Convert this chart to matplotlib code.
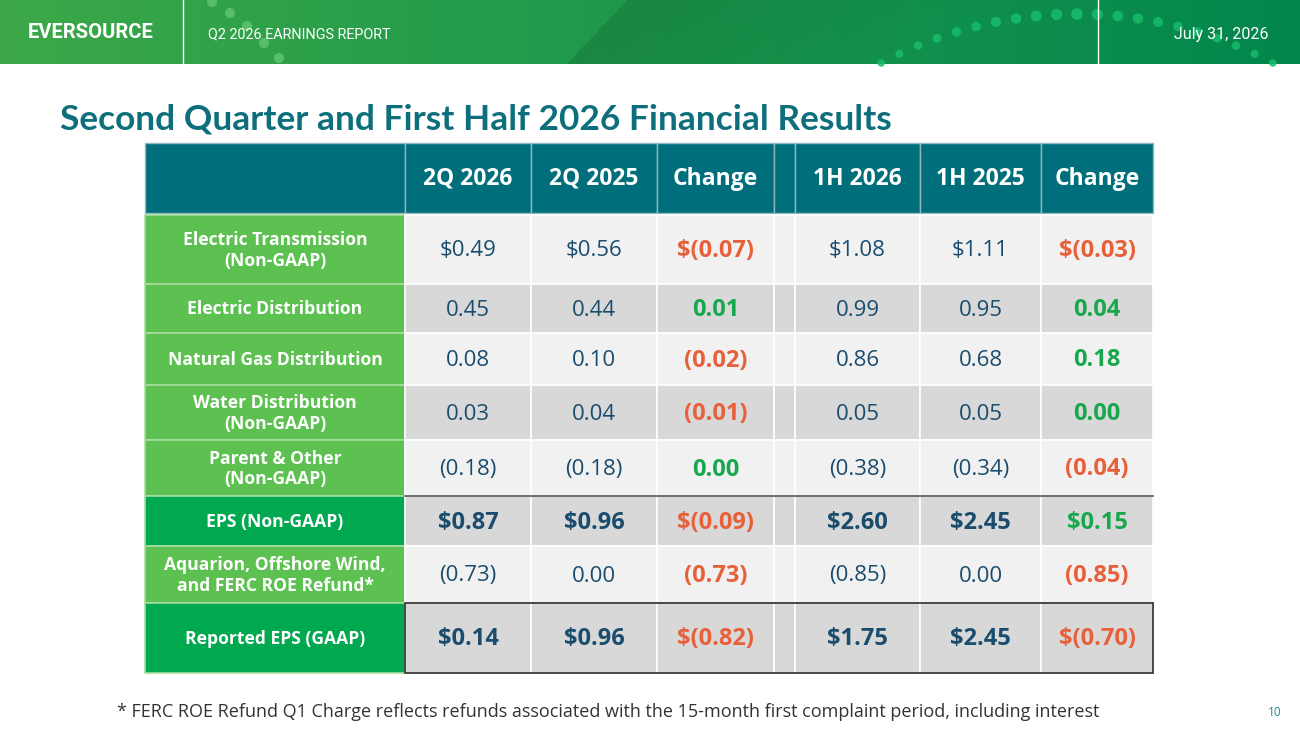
import numpy as np
import matplotlib
matplotlib.use("Agg")
import matplotlib.pyplot as plt
from matplotlib.patches import Rectangle, Circle

# ---------------- data ----------------
col_headers = ["2Q 2026", "2Q 2025", "Change", "1H 2026", "1H 2025", "Change"]
row_labels = [
    "Electric Transmission\n(Non-GAAP)",
    "Electric Distribution",
    "Natural Gas Distribution",
    "Water Distribution\n(Non-GAAP)",
    "Parent & Other\n(Non-GAAP)",
    "EPS (Non-GAAP)",
    "Aquarion, Offshore Wind,\nand FERC ROE Refund*",
    "Reported EPS (GAAP)",
]
q2_2026 = ["$0.49", "0.45", "0.08", "0.03", "(0.18)", "$0.87", "(0.73)", "$0.14"]
q2_2025 = ["$0.56", "0.44", "0.10", "0.04", "(0.18)", "$0.96", "0.00", "$0.96"]
q2_change = ["$(0.07)", "0.01", "(0.02)", "(0.01)", "0.00", "$(0.09)", "(0.73)", "$(0.82)"]
h1_2026 = ["$1.08", "0.99", "0.86", "0.05", "(0.38)", "$2.60", "(0.85)", "$1.75"]
h1_2025 = ["$1.11", "0.95", "0.68", "0.05", "(0.34)", "$2.45", "0.00", "$2.45"]
h1_change = ["$(0.03)", "0.04", "0.18", "0.00", "(0.04)", "$0.15", "(0.85)", "$(0.70)"]
total_rows = [5, 7]

title = "Second Quarter and First Half 2026 Financial Results"
header_left = "Q2 2026 EARNINGS REPORT"
header_right = "July 31, 2026"
logo = "EVERSOURCE"
footnote = ("* FERC ROE Refund Q1 Charge reflects refunds associated with the "
            "15-month first complaint period, including interest")
page_no = "10"

# ---------------- layout / style ----------------
W, H = 1300, 731
TEAL = "#006f7b"
TITLE_C = "#0d6f7b"
LGREEN = "#5cc151"
DGREEN = "#00a84f"
VAL_C = "#1a4d6d"
NEG_C = "#e8603a"
POS_C = "#17a74c"
ROW_LIGHT = "#f1f1f1"
ROW_DARK = "#d8d8d8"

col_x = [145, 405, 531, 657, 774, 795, 920, 1041, 1153]   # cell edges (incl. spacer)
head_y = (143, 213)
row_y = [215, 284, 333, 385, 440, 496, 546, 603, 673]

fig = plt.figure(figsize=(W / 100, H / 100), dpi=100)
ax = fig.add_axes([0, 0, 1, 1])
ax.set_xlim(0, W)
ax.set_ylim(H, 0)
ax.axis("off")

# ---------------- header band ----------------
xs = np.linspace(0, 1, W)
ys = np.linspace(0, 1, 64)
X, Y = np.meshgrid(xs, ys)
c0 = np.array([60, 168, 72]) / 255
c1 = np.array([28, 152, 76]) / 255
c2 = np.array([2, 134, 76]) / 255
t = X[..., None]
grad = np.where(t < 0.5, c0 + (c1 - c0) * (t / 0.5), c1 + (c2 - c1) * ((t - 0.5) / 0.5))
# darker diagonal region fading to the right
edge_px = 567 + (1 - Y) * 60
Xp = X * W
fade = np.clip(1 - (Xp - edge_px) / 320, 0, 1) * (Xp > edge_px)
grad = grad * (1 - 0.12 * fade[..., None])
ax.imshow(grad, extent=(0, W, 64, 0), aspect="auto", zorder=0, interpolation="bilinear")

# decorative dots
left_dots = [(212, 2), (230, 13), (247, 26), (264, 43), (279, 58)]
for (dx, dy) in left_dots:
    ax.add_patch(Circle((dx, dy), 5, color="#78d884", alpha=0.55, lw=0, zorder=1))
cx, cy, R = 1077, 430, 416
angs = np.arange(-0.49, 0.50, 0.049)
for a in angs:
    px = cx + R * np.sin(a)
    py = cy - R * np.cos(a)
    if py < 66:
        rr = 5.8 - 2.0 * abs(a) / 0.49
        ax.add_patch(Circle((px, py), rr, color="#16bd6a", alpha=0.85, lw=0, zorder=1))
ax.set_xlim(0, W)
ax.set_ylim(H, 0)

for vx in (183, 1098):
    ax.plot([vx, vx], [0, 64], color="white", lw=1, zorder=2)

ax.text(28, 32, logo, color="white", fontsize=14.5, fontweight="bold",
        family="Roboto", va="center", ha="left", zorder=3)
ax.text(208, 34, header_left, color="white", fontsize=10.4, family="Roboto",
        va="center", ha="left", zorder=3)
ax.text(1268, 34, header_right, color="white", fontsize=11.5, family="Roboto",
        va="center", ha="right", zorder=3)

# ---------------- title ----------------
ax.text(60, 129, title, color=TITLE_C, fontsize=25.4, fontweight="bold",
        family="Lato", va="baseline", ha="left")

# ---------------- table ----------------
data_cols = [q2_2026, q2_2025, q2_change, h1_2026, h1_2025, h1_change]
data_x = [(col_x[1], col_x[2]), (col_x[2], col_x[3]), (col_x[3], col_x[4]),
          (col_x[5], col_x[6]), (col_x[6], col_x[7]), (col_x[7], col_x[8])]
change_idx = {2, 5}
FONT = "Open Sans"

# header row
for i in range(len(col_x) - 1):
    ax.add_patch(Rectangle((col_x[i], head_y[0]), col_x[i + 1] - col_x[i],
                           head_y[1] - head_y[0], facecolor=TEAL,
                           edgecolor="#8fb9bf", lw=1.0, zorder=3))
for j, hdr in enumerate(col_headers):
    x0, x1 = data_x[j]
    ax.text((x0 + x1) / 2, (head_y[0] + head_y[1]) / 2 + 1, hdr, color="white",
            fontsize=16.5, fontweight="bold", family=FONT, ha="center", va="center", zorder=4)

# body rows
for r in range(len(row_labels)):
    y0, y1 = row_y[r], row_y[r + 1]
    bg = ROW_LIGHT if r % 2 == 0 else ROW_DARK
    lab_c = DGREEN if r in total_rows else LGREEN
    ax.add_patch(Rectangle((col_x[0], y0), col_x[1] - col_x[0], y1 - y0,
                           facecolor=lab_c, edgecolor="#a8dca0", lw=1.2, zorder=3))
    for i in range(1, len(col_x) - 1):
        ax.add_patch(Rectangle((col_x[i], y0), col_x[i + 1] - col_x[i], y1 - y0,
                               facecolor=bg, edgecolor="white", lw=1.2, zorder=3))
    ym = (y0 + y1) / 2
    ax.text((col_x[0] + col_x[1]) / 2, ym + 1, row_labels[r], color="white",
            fontsize=12.6, fontweight="bold", family=FONT, ha="center", va="center",
            linespacing=1.15, zorder=4)
    for j, col in enumerate(data_cols):
        x0, x1 = data_x[j]
        v = col[r]
        if j in change_idx:
            c = NEG_C if "(" in v else POS_C
            fw = "bold"
        else:
            c = VAL_C
            fw = "bold" if r in total_rows else "normal"
        fs = 17 if fw == "bold" else 16
        ax.text((x0 + x1) / 2, ym + 1.5, v, color=c, fontsize=fs, fontweight=fw,
                family=FONT, ha="center", va="center", zorder=4)

# dark rules: above EPS row and box around reported EPS values
ax.plot([col_x[1], col_x[-1]], [row_y[5], row_y[5]], color="#555555", lw=1.2, zorder=5)
ax.add_patch(Rectangle((col_x[1], row_y[7]), col_x[-1] - col_x[1], row_y[8] - row_y[7],
                       facecolor="none", edgecolor="#3a3a3a", lw=1.3, zorder=5))

# ---------------- footer ----------------
ax.text(117, 712, footnote, color="#333333", fontsize=13, family=FONT,
        ha="left", va="center")
ax.text(1275, 713, page_no, color="#1b8a93", fontsize=8.5, family=FONT,
        ha="center", va="center")

fig.savefig("out.png", dpi=100, facecolor="white")
